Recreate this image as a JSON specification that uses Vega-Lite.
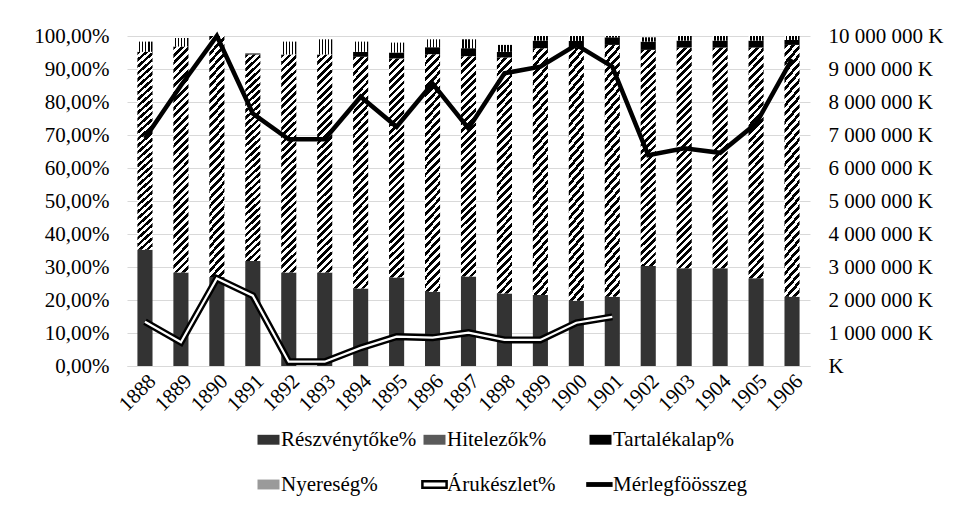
{
  "$schema": "https://vega.github.io/schema/vega-lite/v6.json",
  "width": 683,
  "height": 330,
  "autosize": {"type": "none"},
  "padding": {"left": 127, "top": 36, "right": 151, "bottom": 140},
  "background": "white",
  "config": {
    "view": {"stroke": null},
    "font": "Liberation Serif, Times New Roman, serif",
    "axis": {"labelFont": "Liberation Serif, Times New Roman, serif", "labelFontSize": 21, "labelColor": "#000", "gridColor": "#d9d9d9", "domainColor": "#d9d9d9", "ticks": false, "title": null},
    "legend": {"labelFont": "Liberation Serif, Times New Roman, serif", "labelFontSize": 21, "labelColor": "#000", "labelLimit": 0}
  },
  "datasets": {
    "bars": [
      {"year": 1888, "series": "Részvénytőke%", "ord": 1, "value": 35.2},
      {"year": 1888, "series": "Hitelezők%", "ord": 2, "value": 60.0},
      {"year": 1888, "series": "Tartalékalap%", "ord": 3, "value": 0},
      {"year": 1888, "series": "Nyereség%", "ord": 4, "value": 3.1},
      {"year": 1889, "series": "Részvénytőke%", "ord": 1, "value": 28.3},
      {"year": 1889, "series": "Hitelezők%", "ord": 2, "value": 68.5},
      {"year": 1889, "series": "Tartalékalap%", "ord": 3, "value": 0},
      {"year": 1889, "series": "Nyereség%", "ord": 4, "value": 2.6},
      {"year": 1890, "series": "Részvénytőke%", "ord": 1, "value": 27.0},
      {"year": 1890, "series": "Hitelezők%", "ord": 2, "value": 73.0},
      {"year": 1890, "series": "Tartalékalap%", "ord": 3, "value": 0},
      {"year": 1890, "series": "Nyereség%", "ord": 4, "value": 0},
      {"year": 1891, "series": "Részvénytőke%", "ord": 1, "value": 31.8},
      {"year": 1891, "series": "Hitelezők%", "ord": 2, "value": 62.6},
      {"year": 1891, "series": "Tartalékalap%", "ord": 3, "value": 0.3},
      {"year": 1891, "series": "Nyereség%", "ord": 4, "value": 0},
      {"year": 1892, "series": "Részvénytőke%", "ord": 1, "value": 28.3},
      {"year": 1892, "series": "Hitelezők%", "ord": 2, "value": 66.1},
      {"year": 1892, "series": "Tartalékalap%", "ord": 3, "value": 0},
      {"year": 1892, "series": "Nyereség%", "ord": 4, "value": 3.9},
      {"year": 1893, "series": "Részvénytőke%", "ord": 1, "value": 28.3},
      {"year": 1893, "series": "Hitelezők%", "ord": 2, "value": 66.1},
      {"year": 1893, "series": "Tartalékalap%", "ord": 3, "value": 0},
      {"year": 1893, "series": "Nyereség%", "ord": 4, "value": 4.6},
      {"year": 1894, "series": "Részvénytőke%", "ord": 1, "value": 23.5},
      {"year": 1894, "series": "Hitelezők%", "ord": 2, "value": 70.2},
      {"year": 1894, "series": "Tartalékalap%", "ord": 3, "value": 1.5},
      {"year": 1894, "series": "Nyereség%", "ord": 4, "value": 3.1},
      {"year": 1895, "series": "Részvénytőke%", "ord": 1, "value": 26.8},
      {"year": 1895, "series": "Hitelezők%", "ord": 2, "value": 66.4},
      {"year": 1895, "series": "Tartalékalap%", "ord": 3, "value": 1.8},
      {"year": 1895, "series": "Nyereség%", "ord": 4, "value": 3.0},
      {"year": 1896, "series": "Részvénytőke%", "ord": 1, "value": 22.5},
      {"year": 1896, "series": "Hitelezők%", "ord": 2, "value": 72.0},
      {"year": 1896, "series": "Tartalékalap%", "ord": 3, "value": 2.1},
      {"year": 1896, "series": "Nyereség%", "ord": 4, "value": 2.4},
      {"year": 1897, "series": "Részvénytőke%", "ord": 1, "value": 27.1},
      {"year": 1897, "series": "Hitelezők%", "ord": 2, "value": 66.8},
      {"year": 1897, "series": "Tartalékalap%", "ord": 3, "value": 2.4},
      {"year": 1897, "series": "Nyereség%", "ord": 4, "value": 2.7},
      {"year": 1898, "series": "Részvénytőke%", "ord": 1, "value": 22.0},
      {"year": 1898, "series": "Hitelezők%", "ord": 2, "value": 71.5},
      {"year": 1898, "series": "Tartalékalap%", "ord": 3, "value": 1.7},
      {"year": 1898, "series": "Nyereség%", "ord": 4, "value": 2.1},
      {"year": 1899, "series": "Részvénytőke%", "ord": 1, "value": 21.5},
      {"year": 1899, "series": "Hitelezők%", "ord": 2, "value": 74.8},
      {"year": 1899, "series": "Tartalékalap%", "ord": 3, "value": 2.3},
      {"year": 1899, "series": "Nyereség%", "ord": 4, "value": 1.4},
      {"year": 1900, "series": "Részvénytőke%", "ord": 1, "value": 19.8},
      {"year": 1900, "series": "Hitelezők%", "ord": 2, "value": 76.7},
      {"year": 1900, "series": "Tartalékalap%", "ord": 3, "value": 2.0},
      {"year": 1900, "series": "Nyereség%", "ord": 4, "value": 1.5},
      {"year": 1901, "series": "Részvénytőke%", "ord": 1, "value": 21.0},
      {"year": 1901, "series": "Hitelezők%", "ord": 2, "value": 76.3},
      {"year": 1901, "series": "Tartalékalap%", "ord": 3, "value": 2.3},
      {"year": 1901, "series": "Nyereség%", "ord": 4, "value": 0.4},
      {"year": 1902, "series": "Részvénytőke%", "ord": 1, "value": 30.3},
      {"year": 1902, "series": "Hitelezők%", "ord": 2, "value": 65.5},
      {"year": 1902, "series": "Tartalékalap%", "ord": 3, "value": 2.5},
      {"year": 1902, "series": "Nyereség%", "ord": 4, "value": 1.3},
      {"year": 1903, "series": "Részvénytőke%", "ord": 1, "value": 29.6},
      {"year": 1903, "series": "Hitelezők%", "ord": 2, "value": 66.9},
      {"year": 1903, "series": "Tartalékalap%", "ord": 3, "value": 2.1},
      {"year": 1903, "series": "Nyereség%", "ord": 4, "value": 1.4},
      {"year": 1904, "series": "Részvénytőke%", "ord": 1, "value": 29.6},
      {"year": 1904, "series": "Hitelezők%", "ord": 2, "value": 66.9},
      {"year": 1904, "series": "Tartalékalap%", "ord": 3, "value": 2.1},
      {"year": 1904, "series": "Nyereség%", "ord": 4, "value": 1.4},
      {"year": 1905, "series": "Részvénytőke%", "ord": 1, "value": 26.6},
      {"year": 1905, "series": "Hitelezők%", "ord": 2, "value": 69.9},
      {"year": 1905, "series": "Tartalékalap%", "ord": 3, "value": 2.1},
      {"year": 1905, "series": "Nyereség%", "ord": 4, "value": 1.4},
      {"year": 1906, "series": "Részvénytőke%", "ord": 1, "value": 21.0},
      {"year": 1906, "series": "Hitelezők%", "ord": 2, "value": 76.3},
      {"year": 1906, "series": "Tartalékalap%", "ord": 3, "value": 1.5},
      {"year": 1906, "series": "Nyereség%", "ord": 4, "value": 1.2}
    ],
    "aru": [
      {"year": 1888, "value": 13.4},
      {"year": 1889, "value": 7.2},
      {"year": 1890, "value": 26.5},
      {"year": 1891, "value": 21.3},
      {"year": 1892, "value": 1.3},
      {"year": 1893, "value": 1.3},
      {"year": 1894, "value": 5.5},
      {"year": 1895, "value": 8.9},
      {"year": 1896, "value": 8.6},
      {"year": 1897, "value": 10.1},
      {"year": 1898, "value": 7.9},
      {"year": 1899, "value": 7.9},
      {"year": 1900, "value": 13.1},
      {"year": 1901, "value": 14.9}
    ],
    "merleg": [
      {"year": 1888, "value": 6900000},
      {"year": 1889, "value": 8500000},
      {"year": 1890, "value": 10000000},
      {"year": 1891, "value": 7650000},
      {"year": 1892, "value": 6870000},
      {"year": 1893, "value": 6870000},
      {"year": 1894, "value": 8160000},
      {"year": 1895, "value": 7250000},
      {"year": 1896, "value": 8560000},
      {"year": 1897, "value": 7200000},
      {"year": 1898, "value": 8870000},
      {"year": 1899, "value": 9070000},
      {"year": 1900, "value": 9730000},
      {"year": 1901, "value": 9070000},
      {"year": 1902, "value": 6390000},
      {"year": 1903, "value": 6600000},
      {"year": 1904, "value": 6460000},
      {"year": 1905, "value": 7350000},
      {"year": 1906, "value": 9300000}
    ]
  },
  "layer": [
    {
      "data": {"name": "bars"},
      "mark": {"type": "bar"},
      "encoding": {
        "x": {"field": "year", "type": "ordinal", "scale": {"paddingInner": 0.58, "paddingOuter": 0.29},
              "axis": {"labelAngle": -45, "labelPadding": 4, "domain": true, "grid": false}},
        "y": {"field": "value", "type": "quantitative", "stack": "zero", "scale": {"domain": [0, 100], "nice": false},
              "axis": {"orient": "left", "values": [0, 10, 20, 30, 40, 50, 60, 70, 80, 90, 100], "domain": false, "grid": true, "labelPadding": 18,
                       "labelExpr": "replace(format(datum.value, '.2f'), '.', ',') + '%'"}},
        "order": {"field": "ord", "type": "quantitative"},
        "fill": {
          "condition": [
            {"test": "datum.series === 'Hitelezők%'", "value": {"gradient": "linear", "x1": 0, "y1": 0, "x2": 0.0723, "y2": 1.063, "stops": [{"offset":0,"color":"#000"},{"offset":0.0156,"color":"#000"},{"offset":0.0156,"color":"#fff"},{"offset":0.0313,"color":"#fff"},{"offset":0.0313,"color":"#000"},{"offset":0.0469,"color":"#000"},{"offset":0.0469,"color":"#fff"},{"offset":0.0625,"color":"#fff"},{"offset":0.0625,"color":"#000"},{"offset":0.0781,"color":"#000"},{"offset":0.0781,"color":"#fff"},{"offset":0.0938,"color":"#fff"},{"offset":0.0938,"color":"#000"},{"offset":0.1094,"color":"#000"},{"offset":0.1094,"color":"#fff"},{"offset":0.125,"color":"#fff"},{"offset":0.125,"color":"#000"},{"offset":0.1406,"color":"#000"},{"offset":0.1406,"color":"#fff"},{"offset":0.1563,"color":"#fff"},{"offset":0.1563,"color":"#000"},{"offset":0.1719,"color":"#000"},{"offset":0.1719,"color":"#fff"},{"offset":0.1875,"color":"#fff"},{"offset":0.1875,"color":"#000"},{"offset":0.2031,"color":"#000"},{"offset":0.2031,"color":"#fff"},{"offset":0.2188,"color":"#fff"},{"offset":0.2188,"color":"#000"},{"offset":0.2344,"color":"#000"},{"offset":0.2344,"color":"#fff"},{"offset":0.25,"color":"#fff"},{"offset":0.25,"color":"#000"},{"offset":0.2656,"color":"#000"},{"offset":0.2656,"color":"#fff"},{"offset":0.2813,"color":"#fff"},{"offset":0.2813,"color":"#000"},{"offset":0.2969,"color":"#000"},{"offset":0.2969,"color":"#fff"},{"offset":0.3125,"color":"#fff"},{"offset":0.3125,"color":"#000"},{"offset":0.3281,"color":"#000"},{"offset":0.3281,"color":"#fff"},{"offset":0.3438,"color":"#fff"},{"offset":0.3438,"color":"#000"},{"offset":0.3594,"color":"#000"},{"offset":0.3594,"color":"#fff"},{"offset":0.375,"color":"#fff"},{"offset":0.375,"color":"#000"},{"offset":0.3906,"color":"#000"},{"offset":0.3906,"color":"#fff"},{"offset":0.4063,"color":"#fff"},{"offset":0.4063,"color":"#000"},{"offset":0.4219,"color":"#000"},{"offset":0.4219,"color":"#fff"},{"offset":0.4375,"color":"#fff"},{"offset":0.4375,"color":"#000"},{"offset":0.4531,"color":"#000"},{"offset":0.4531,"color":"#fff"},{"offset":0.4688,"color":"#fff"},{"offset":0.4688,"color":"#000"},{"offset":0.4844,"color":"#000"},{"offset":0.4844,"color":"#fff"},{"offset":0.5,"color":"#fff"},{"offset":0.5,"color":"#000"},{"offset":0.5156,"color":"#000"},{"offset":0.5156,"color":"#fff"},{"offset":0.5313,"color":"#fff"},{"offset":0.5313,"color":"#000"},{"offset":0.5469,"color":"#000"},{"offset":0.5469,"color":"#fff"},{"offset":0.5625,"color":"#fff"},{"offset":0.5625,"color":"#000"},{"offset":0.5781,"color":"#000"},{"offset":0.5781,"color":"#fff"},{"offset":0.5938,"color":"#fff"},{"offset":0.5938,"color":"#000"},{"offset":0.6094,"color":"#000"},{"offset":0.6094,"color":"#fff"},{"offset":0.625,"color":"#fff"},{"offset":0.625,"color":"#000"},{"offset":0.6406,"color":"#000"},{"offset":0.6406,"color":"#fff"},{"offset":0.6563,"color":"#fff"},{"offset":0.6563,"color":"#000"},{"offset":0.6719,"color":"#000"},{"offset":0.6719,"color":"#fff"},{"offset":0.6875,"color":"#fff"},{"offset":0.6875,"color":"#000"},{"offset":0.7031,"color":"#000"},{"offset":0.7031,"color":"#fff"},{"offset":0.7188,"color":"#fff"},{"offset":0.7188,"color":"#000"},{"offset":0.7344,"color":"#000"},{"offset":0.7344,"color":"#fff"},{"offset":0.75,"color":"#fff"},{"offset":0.75,"color":"#000"},{"offset":0.7656,"color":"#000"},{"offset":0.7656,"color":"#fff"},{"offset":0.7813,"color":"#fff"},{"offset":0.7813,"color":"#000"},{"offset":0.7969,"color":"#000"},{"offset":0.7969,"color":"#fff"},{"offset":0.8125,"color":"#fff"},{"offset":0.8125,"color":"#000"},{"offset":0.8281,"color":"#000"},{"offset":0.8281,"color":"#fff"},{"offset":0.8438,"color":"#fff"},{"offset":0.8438,"color":"#000"},{"offset":0.8594,"color":"#000"},{"offset":0.8594,"color":"#fff"},{"offset":0.875,"color":"#fff"},{"offset":0.875,"color":"#000"},{"offset":0.8906,"color":"#000"},{"offset":0.8906,"color":"#fff"},{"offset":0.9063,"color":"#fff"},{"offset":0.9063,"color":"#000"},{"offset":0.9219,"color":"#000"},{"offset":0.9219,"color":"#fff"},{"offset":0.9375,"color":"#fff"},{"offset":0.9375,"color":"#000"},{"offset":0.9531,"color":"#000"},{"offset":0.9531,"color":"#fff"},{"offset":0.9688,"color":"#fff"},{"offset":0.9688,"color":"#000"},{"offset":0.9844,"color":"#000"},{"offset":0.9844,"color":"#fff"},{"offset":1,"color":"#fff"}]}},
            {"test": "datum.series === 'Nyereség%'", "value": {"gradient": "linear", "x1": 0, "y1": 0, "x2": 1, "y2": 0, "stops": [{"offset":0,"color":"#fff"},{"offset":0.1,"color":"#fff"},{"offset":0.1,"color":"#000"},{"offset":0.2,"color":"#000"},{"offset":0.2,"color":"#fff"},{"offset":0.3,"color":"#fff"},{"offset":0.3,"color":"#000"},{"offset":0.4,"color":"#000"},{"offset":0.4,"color":"#fff"},{"offset":0.5,"color":"#fff"},{"offset":0.5,"color":"#000"},{"offset":0.6,"color":"#000"},{"offset":0.6,"color":"#fff"},{"offset":0.7,"color":"#fff"},{"offset":0.7,"color":"#000"},{"offset":0.8,"color":"#000"},{"offset":0.8,"color":"#fff"},{"offset":0.9,"color":"#fff"},{"offset":0.9,"color":"#000"},{"offset":1,"color":"#000"}]}}
          ],
          "field": "series", "type": "nominal",
          "scale": {
            "domain": ["Részvénytőke%", "Hitelezők%", "Tartalékalap%", "Nyereség%", "Árukészlet%", "Mérlegföösszeg"],
            "range": ["#333333", "#5a5a5a", "#000000", "#9a9a9a", "#ffffff", "#000000"]
          },
          "legend": {
            "orient": "none", "legendX": 131, "legendY": 393, "direction": "horizontal",
            "columns": 3, "gridAlign": "all", "columnPadding": 0, "rowPadding": 23,
            "title": null, "symbolSize": 484, "labelOffset": 2,
            "values": ["Részvénytőke%", "Hitelezők%", "Tartalékalap%", "Nyereség%", "Árukészlet%", "Mérlegföösszeg"],
            "symbolType": "M-1,-0.45H1V0.45H-1Z",
            "encoding": {
              "symbols": {
                "shape": {"value": {"expr": "datum.value === 'Árukészlet%' ? 'M-1.1,-0.3H1.1V0.3H-1.1Z' : (datum.value === 'Mérlegföösszeg' ? 'M-1.3,-0.22H1.1V0.22H-1.3Z' : 'M-1,-0.45H1V0.45H-1Z')"}},
                "stroke": {"value": "#000000"},
                "strokeWidth": {"value": {"expr": "datum.value === 'Árukészlet%' ? 2.5 : 0"}}
              }
            }
          }
        }
      }
    },
    {
      "data": {"name": "aru"},
      "mark": {"type": "line", "color": "#000000", "strokeWidth": 7},
      "encoding": {
        "x": {"field": "year", "type": "ordinal"},
        "y": {"field": "value", "type": "quantitative", "scale": {"domain": [0, 100], "nice": false}, "axis": null}
      }
    },
    {
      "data": {"name": "aru"},
      "mark": {"type": "line", "color": "#ffffff", "strokeWidth": 2.2},
      "encoding": {
        "x": {"field": "year", "type": "ordinal"},
        "y": {"field": "value", "type": "quantitative", "scale": {"domain": [0, 100], "nice": false}, "axis": null}
      }
    },
    {
      "data": {"name": "merleg"},
      "mark": {"type": "line", "color": "#000000", "strokeWidth": 4.5},
      "encoding": {
        "x": {"field": "year", "type": "ordinal"},
        "y": {"field": "value", "type": "quantitative", "scale": {"domain": [0, 10000000], "nice": false},
              "axis": {"orient": "right", "values": [0, 1000000, 2000000, 3000000, 4000000, 5000000, 6000000, 7000000, 8000000, 9000000, 10000000],
                       "domain": false, "grid": false, "labelPadding": 18,
                       "labelExpr": "datum.value == 0 ? '\u00a0\u00a0\u00a0K' : replace(replace(format(datum.value, ',.0f'), ',', ' '), ',', ' ') + ' K'"}}
      }
    }
  ],
  "resolve": {"scale": {"y": "independent"}}
}
